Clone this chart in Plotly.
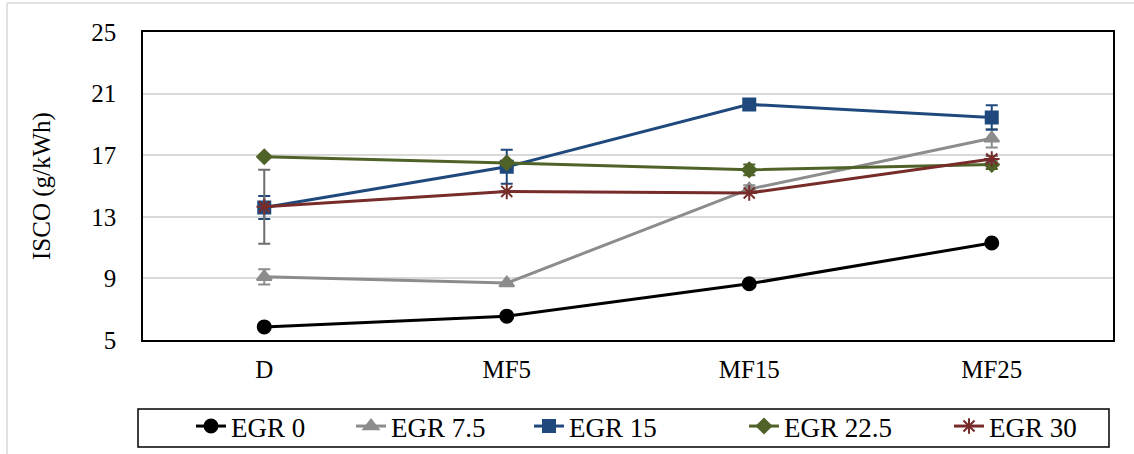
import plotly.graph_objects as go

# Fuel blends on the x axis
categories = ["D", "MF5", "MF15", "MF25"]

# ISCO (g/kWh) for each EGR rate
egr_0 = [5.85, 6.55, 8.65, 11.3]
egr_7_5 = [9.1, 8.7, 14.8, 18.1]
egr_15 = [13.6, 16.25, 20.3, 19.45]
egr_22_5 = [16.9, 16.5, 16.05, 16.4]
egr_30 = [13.65, 14.65, 14.55, 16.75]

# Symmetric error bar half-widths
err_0 = [0, 0, 0, 0]
err_7_5 = [0.5, 0, 0.25, 0.6]
err_15 = [0.75, 1.1, 0, 0.8]
err_22_5 = [0, 0, 0.35, 0.3]
err_30 = [2.4, 0, 0, 0.2]

series = [
    ("EGR 0", egr_0, err_0, "#000000", "#000000", "circle", 13, 115),
    ("EGR 7.5", egr_7_5, err_7_5, "#8c8c8c", "#8c8c8c", "triangle-up", 13, 133),
    ("EGR 15", egr_15, err_15, "#1f497d", "#1f497d", "square", 12, 170),
    ("EGR 22.5", egr_22_5, err_22_5, "#4f6228", "#4f6228", "diamond", 11, 160),
    ("EGR 30", egr_30, err_30, "#772c2a", "#6d6d6d", "asterisk-open", 13, 110),
]

fig = go.Figure()
for name, vals, errs, color, ecolor, symbol, msize, lw in series:
    fig.add_trace(go.Scatter(
        x=categories, y=vals, name=name, mode="lines+markers",
        line=dict(color=color, width=3),
        marker=dict(symbol=symbol, size=msize, color=color,
                    line=dict(color=color, width=2)),
        error_y=dict(type="data", array=errs, visible=True,
                     color=ecolor, thickness=2, width=6),
        legendwidth=lw,
    ))

W, H = 1134, 454
L, R, T, B = 143, 21, 32, 114
pw, ph = W - L - R, H - T - B


def px_x(x):
    return (x - L) / pw


def px_y(y):
    return (H - B - y) / ph


font = "Liberation Serif, Times New Roman, serif"

shapes = [
    # legend frame
    dict(type="rect", xref="paper", yref="paper",
         x0=px_x(138), x1=px_x(1109), y0=px_y(447), y1=px_y(409),
         line=dict(color="#000000", width=1.5)),
    # outer chart frame (left and top edges)
    dict(type="line", xref="paper", yref="paper",
         x0=px_x(7), x1=px_x(7), y0=px_y(460), y1=px_y(3),
         line=dict(color="#d9d9d9", width=1.5)),
    dict(type="line", xref="paper", yref="paper",
         x0=px_x(7), x1=px_x(1140), y0=px_y(3), y1=px_y(3),
         line=dict(color="#d9d9d9", width=1.5)),
]

fig.update_layout(
    width=W, height=H,
    margin=dict(l=L, r=R, t=T, b=B, autoexpand=False),
    paper_bgcolor="white", plot_bgcolor="white",
    font=dict(family=font, size=25, color="#000000"),
    showlegend=True,
    legend=dict(orientation="h", x=px_x(191), y=px_y(402),
                xanchor="left", yanchor="top",
                font=dict(family=font, size=27),
                bgcolor="rgba(0,0,0,0)", borderwidth=0,
                itemwidth=30),
    shapes=shapes,
    xaxis=dict(type="category", range=[-0.5, 3.5],
               showgrid=False, showline=True, mirror=True,
               linecolor="#000000", linewidth=1.5, ticks="",
               ticklabelstandoff=6,
               tickfont=dict(family=font, size=25)),
    yaxis=dict(range=[5, 25], dtick=4, tick0=5,
               showgrid=True, gridcolor="#d9d9d9", gridwidth=1.5,
               showline=True, mirror=True, linecolor="#000000",
               linewidth=1.5, ticks="", zeroline=False,
               ticklabelstandoff=20,
               tickfont=dict(family=font, size=25),
               title=dict(text="ISCO (g/kWh)",
                          font=dict(family=font, size=25), standoff=34)),
)

fig.write_html("out.html")
